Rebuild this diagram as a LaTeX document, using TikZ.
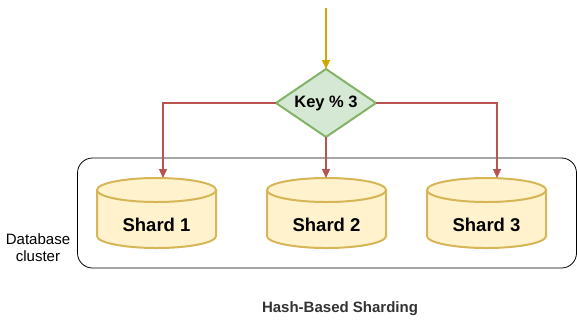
\documentclass[tikz,border=0pt]{standalone}
\usepackage{fontspec}
\setmainfont{Liberation Sans}
\usetikzlibrary{shapes.geometric,arrows.meta}
\definecolor{redline}{HTML}{B85450}
\definecolor{goldline}{HTML}{D0A800}
\definecolor{gfill}{HTML}{D5E8D4}
\definecolor{gline}{HTML}{82B366}
\definecolor{yfill}{HTML}{FFF2CC}
\definecolor{yline}{HTML}{D6B656}
\newcommand{\shardcyl}[1]{%
  \draw[cylstyle] (#1-59.5,190) -- (#1-59.5,236) arc[start angle=180,end angle=0,x radius=59.5,y radius=12] -- (#1+59.5,190) -- cycle;
  \draw[cylstyle] (#1,190) ellipse[x radius=59.5,y radius=12];
}
\begin{document}
\begin{tikzpicture}[x=1pt,y=-1pt,
  conn/.style={draw=redline,line width=1.3pt,-{Triangle[length=9pt,width=8pt]}},
  cylstyle/.style={draw=yline,fill=yfill,line width=2pt},
  shardtext/.style={font=\bfseries\fontsize{18.5}{22}\selectfont},
  decision/.style={diamond,draw=gline,fill=gfill,line width=2pt,minimum width=100pt,minimum height=68pt,inner sep=0pt,outer sep=0pt}]
\useasboundingbox (0,0) rectangle (577,319);
\node[draw=black,line width=0.8pt,rounded corners=15pt,minimum width=499pt,minimum height=110pt,inner sep=0pt] (cluster) at (327,213) {};
\coordinate (src) at (326,8);
\node[decision] (key) at (326,103) {};
\node[font=\bfseries\fontsize{16.5}{19}\selectfont] (keytext) at (326,103) {Key \% 3};
\draw[draw=goldline,line width=1.3pt,-{Triangle[length=9pt,width=8pt]}] (src) -- (key.north);
\shardcyl{156.5}
\shardcyl{326.5}
\shardcyl{486.5}
\node[shardtext] (t1) at (156.5,225) {Shard 1};
\node[shardtext] (t2) at (326.5,225) {Shard 2};
\node[shardtext] (t3) at (486.5,225) {Shard 3};
\coordinate (a1) at (163,178);
\coordinate (a2) at (326,178);
\coordinate (a3) at (497,178);
\draw[conn] (key.west) -| (a1);
\draw[conn] (key.east) -| (a3);
\draw[conn] (key.south) -- (a2);
\node[align=center,font=\fontsize{15}{17}\selectfont] (lbl) at (38,248) {Database\\cluster};
\node[font=\bfseries\fontsize{15}{17}\selectfont,text=black!80] (title) at (340,309) {Hash-Based Sharding};
\end{tikzpicture}
\end{document}
